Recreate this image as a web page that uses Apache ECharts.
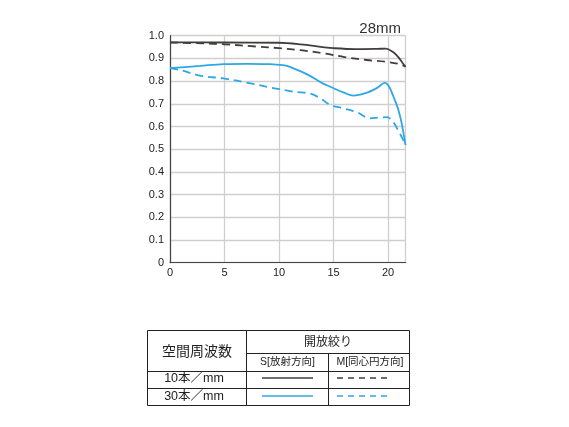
<!DOCTYPE html>
<html>
<head>
<meta charset="utf-8">
<script src="https://cdn.jsdelivr.net/npm/echarts@6/dist/echarts.min.js"></script>
<style>
html,body{margin:0;padding:0;background:#fff;}
#c{width:569px;height:427px;}
</style>
</head>
<body>
<div id="c"></div>
<script>
// ---- data ----
const focalLabel = '28mm';
const xTicks = [0, 5, 10, 15, 20];
const xMax = 21.6;
const yTicks = [0, 0.1, 0.2, 0.3, 0.4, 0.5, 0.6, 0.7, 0.8, 0.9, 1.0];

// S (sagittal) 10 lines/mm
const xS10 = [0, 5, 10, 12, 14, 15, 17, 19, 19.8, 20.4, 20.9, 21.3, 21.6];
const yS10 = [0.971, 0.970, 0.969, 0.962, 0.950, 0.945, 0.941, 0.942, 0.943, 0.930, 0.908, 0.882, 0.863];
// M (meridional) 10 lines/mm
const xM10 = [0, 3, 5, 8, 10, 12, 14, 16, 18, 19.8, 21.1, 21.6];
const yM10 = [0.970, 0.966, 0.962, 0.952, 0.945, 0.936, 0.923, 0.906, 0.893, 0.885, 0.874, 0.863];
// S 30 lines/mm
const xS30 = [0, 2.75, 4.9, 7, 9.2, 10.5, 11, 12, 12.8, 14, 14.7, 16, 16.8, 18, 19, 19.7, 20.1, 20.5, 20.95, 21.25, 21.6];
const yS30 = [0.857, 0.867, 0.875, 0.876, 0.875, 0.869, 0.863, 0.843, 0.824, 0.790, 0.775, 0.748, 0.736, 0.748, 0.770, 0.792, 0.775, 0.731, 0.673, 0.614, 0.518];
// M 30 lines/mm
const xM30 = [0, 1, 2.75, 4.9, 7.4, 9.2, 10, 11, 12, 12.8, 13.8, 14.7, 15.9, 17.2, 18.3, 19.3, 19.9, 20.5, 20.95, 21.4, 21.6];
const yM30 = [0.857, 0.848, 0.824, 0.812, 0.790, 0.772, 0.765, 0.756, 0.750, 0.746, 0.724, 0.695, 0.680, 0.662, 0.636, 0.640, 0.641, 0.618, 0.580, 0.540, 0.520];

// table texts
const tableHead = '空間周波数';
const tableAperture = '開放絞り';
const colS = 'S[放射方向]';
const colM = 'M[同心円方向]';
const rowLabels = ['10本／mm', '30本／mm'];

const darkColor = '#433d3d';
const blueColor = '#2ea7e4';

const zip = (xs, ys) => xs.map((x, i) => [x, ys[i]]);

const chart = echarts.init(document.getElementById('c'));
const font = '"Liberation Sans", "Noto Sans CJK JP", sans-serif';
const jfont = '"Noto Sans CJK JP", sans-serif';
const tc = '#222';

function mkLine(name, data, color, dashed) {
  return {
    name, type: 'line', data, smooth: 0.35, symbol: 'none',
    lineStyle: { color, width: 1.8, type: dashed ? [8, 5] : 'solid' },
    z: dashed ? 3 : 4
  };
}

const g = [];
const L = (x1, y1, x2, y2, stroke, lw, dash) => g.push({
  type: 'line', silent: true,
  shape: { x1, y1, x2, y2 },
  style: { stroke, lineWidth: lw, lineDash: dash || null }
});
const T = (x, y, text, size, fam) => g.push({
  type: 'text', silent: true, x, y,
  style: { text, fill: tc, font: size + 'px ' + (fam || jfont), align: 'center', verticalAlign: 'middle' }
});
// table frame
g.push({ type: 'rect', silent: true, shape: { x: 147.5, y: 330.5, width: 262, height: 75 },
  style: { fill: 'none', stroke: '#222', lineWidth: 1 } });
L(246.5, 330.5, 246.5, 405.5, '#222', 1);
L(246.5, 353.5, 409.5, 353.5, '#222', 1);
L(328.5, 353.5, 328.5, 405.5, '#222', 1);
L(147.5, 371.5, 409.5, 371.5, '#222', 1);
L(147.5, 388.5, 409.5, 388.5, '#222', 1);
T(197, 351, tableHead, 14);
T(328, 341.5, tableAperture, 12);
T(287.5, 362.5, colS, 10.5, font);
T(370, 362.5, colM, 10.5, font);
T(194, 379, rowLabels[0], 12.5, font);
T(194, 396.5, rowLabels[1], 12.5, font);
// sample lines
L(262, 378, 313, 378, darkColor, 1.5);
L(337, 378, 391, 378, darkColor, 1.5, [6, 5]);
L(262, 396, 313, 396, blueColor, 1.5);
L(337, 396, 391, 396, blueColor, 1.5, [6, 5]);

chart.setOption({
  animation: false,
  backgroundColor: '#fff',
  title: {
    text: focalLabel, right: 163, top: 16,
    textStyle: { fontSize: 15, fontWeight: 'normal', color: '#333', fontFamily: font }
  },
  grid: { left: 170, right: 163.5, top: 35.7, height: 227, show: false, containLabel: false },
  xAxis: {
    type: 'value', min: xTicks[0], max: xMax, interval: xTicks[1] - xTicks[0],
    axisLine: { show: true, lineStyle: { color: '#444', width: 1.2 } },
    axisTick: { show: false },
    axisLabel: { showMaxLabel: false, color: tc, fontSize: 11, margin: 5, fontFamily: font },
    splitLine: { show: true, lineStyle: { color: '#cfcfcf', width: 1.3 } }
  },
  yAxis: {
    type: 'value', min: yTicks[0], max: yTicks[yTicks.length - 1], interval: 0.1,
    axisLine: { show: true, lineStyle: { color: '#444', width: 1.2 } },
    axisTick: { show: false },
    axisLabel: { color: tc, fontSize: 11, margin: 6, fontFamily: font,
      formatter: v => v === 0 ? '0' : v.toFixed(1) },
    splitLine: { show: true, lineStyle: { color: '#cfcfcf', width: 1.3 } }
  },
  series: [
    mkLine('S 10本/mm', zip(xS10, yS10), darkColor, false),
    mkLine('M 10本/mm', zip(xM10, yM10), darkColor, true),
    mkLine('S 30本/mm', zip(xS30, yS30), blueColor, false),
    mkLine('M 30本/mm', zip(xM30, yM30), blueColor, true)
  ],
  graphic: g
});
</script>
</body>
</html>
